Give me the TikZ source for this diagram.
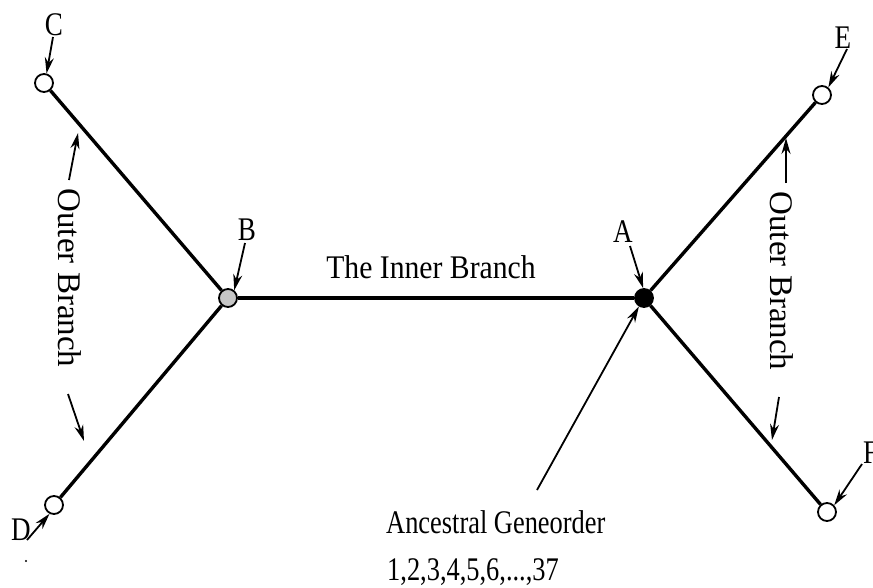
\documentclass[tikz,border=0pt]{standalone}
\usepackage{fontspec}
\setmainfont{Liberation Serif}
\usetikzlibrary{arrows.meta}
\newcommand{\cnd}[1]{\scalebox{0.82}[1]{#1}}
\tikzset{
  leaf/.style={circle,draw,line width=1.8pt,fill=white,minimum size=18pt,inner sep=0pt},
  inner/.style={circle,draw,line width=1.8pt,minimum size=18pt,inner sep=0pt},
  branch/.style={line width=3.4pt},
  ptr/.style={line width=1.8pt,-{Stealth[length=16pt,width=9pt]}},
  lbl/.style={inner sep=0pt,font=\fontsize{33}{36}\selectfont},
  vlbl/.style={inner sep=0pt,font=\fontsize{33}{36}\selectfont,rotate=-90},
}
\begin{document}
\begin{tikzpicture}[x=1pt,y=-1pt]
\useasboundingbox (0,0) rectangle (873,587);
% nodes
\node[leaf] (C) at (44,83) {};
\node[leaf] (D) at (54,505) {};
\node[leaf] (E) at (822,95) {};
\node[leaf] (F) at (827,512) {};
\node[inner,fill=gray!45] (B) at (228,298) {};
\node[inner,fill=black] (A) at (644,298) {};
% branches
\draw[branch] (C) -- (B);
\draw[branch] (D) -- (B);
\draw[branch] (B) -- (A);
\draw[branch] (A) -- (E);
\draw[branch] (A) -- (F);
% labels
\node[lbl,anchor=base] (Cl) at (54,35) {\cnd{C}};
\node[lbl,anchor=base] (Bl) at (247,240) {\cnd{B}};
\node[lbl,anchor=base] (Al) at (623,242) {\cnd{A}};
\node[lbl,anchor=base] (El) at (843,48) {\cnd{E}};
\node[lbl,anchor=base] (Dl) at (21,540) {\cnd{D}};
\node[lbl,anchor=base west] (Fl) at (863,463) {\cnd{F}};
\node[lbl,anchor=base] (inn) at (431,278) {\scalebox{0.9}[1]{The Inner Branch}};
\node[lbl,anchor=base west] (anc) at (386,533) {\scalebox{0.8}[1]{Ancestral Geneorder}};
\node[lbl,anchor=base west] (num) at (387,580) {\scalebox{0.8}[1]{1,2,3,4,5,6,...,37}};
\node[vlbl] (ol) at (70,278) {Outer Branch};
\node[vlbl] (or) at (782,281) {Outer Branch};
% label pointers
\coordinate (cC) at (53,37);
\coordinate (cB) at (245,243);
\coordinate (cA) at (630,246);
\coordinate (cE) at (847,49);
\coordinate (cF) at (862,464);
\coordinate (cD) at (27,540);
\coordinate (cAnc) at (537,490);
\draw[ptr] (cC) -- (C.75);
\draw[ptr] (cB) -- (B.51);
\draw[ptr] (cA) -- (A.95);
\draw[ptr] (cE) -- (E.50);
\draw[ptr] (cF) -- (F.43);
\draw[ptr] (cD) -- (D.243);
\draw[ptr] (cAnc) -- (A.239);
% outer branch pointers
\coordinate (l1s) at (69,180);
\coordinate (l1e) at (78,133);
\coordinate (l2s) at (68,394);
\coordinate (l2e) at (84,441);
\coordinate (r1s) at (786,183);
\coordinate (r1e) at (786,138);
\coordinate (r2s) at (779,397);
\coordinate (r2e) at (772,440);
\draw[ptr] (l1s) -- (l1e);
\draw[ptr] (l2s) -- (l2e);
\draw[ptr] (r1s) -- (r1e);
\draw[ptr] (r2s) -- (r2e);
% speck
\fill (26,561) circle (1.2pt);
\end{tikzpicture}
\end{document}
